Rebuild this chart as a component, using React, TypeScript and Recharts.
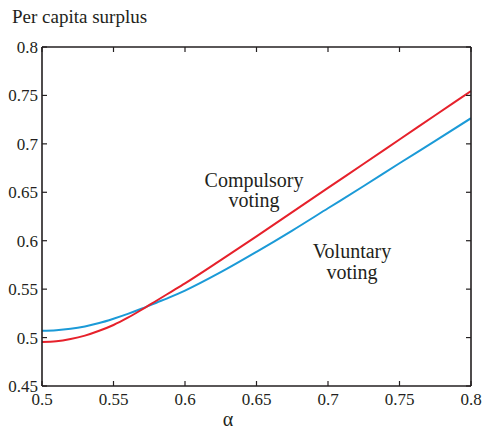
import React from 'react';
import { LineChart, Line, XAxis, YAxis } from 'recharts';

// alpha grid and per-capita surplus
const alphaValues = [0.5, 0.51, 0.52, 0.53, 0.54, 0.55, 0.56, 0.57, 0.58, 0.59, 0.6, 0.625, 0.65, 0.675, 0.7, 0.725, 0.75, 0.775, 0.8];
const compulsoryVoting = [0.4955, 0.4962, 0.4985, 0.502, 0.507, 0.513, 0.5205, 0.529, 0.538, 0.547, 0.556, 0.58, 0.6045, 0.6295, 0.6545, 0.6795, 0.7045, 0.7295, 0.7545];
const voluntaryVoting = [0.507, 0.5075, 0.509, 0.5115, 0.515, 0.5195, 0.5245, 0.53, 0.536, 0.542, 0.5485, 0.5675, 0.5885, 0.6105, 0.6335, 0.6565, 0.68, 0.703, 0.7265];

const xTicks = [0.5, 0.55, 0.6, 0.65, 0.7, 0.75, 0.8];
const yTicks = [0.45, 0.5, 0.55, 0.6, 0.65, 0.7, 0.75, 0.8];

const data = alphaValues.map((a, i) => ({
  alpha: a,
  compulsory: compulsoryVoting[i],
  voluntary: voluntaryVoting[i],
}));

const FONT = '"Liberation Serif", "Times New Roman", serif';
const AXIS = '#231f20';
const tickStyle = { fill: '#231f20', fontSize: 17, fontFamily: FONT };
const noLabel = () => <g />;

export default function App() {
  return (
    <div style={{ position: 'relative', width: 485, height: 434, background: '#fff' }}>
      <style>{`body{margin:0}`}</style>
      <LineChart
        width={485}
        height={434}
        data={data}
        margin={{ top: 46, right: 13, bottom: 0, left: 0 }}
      >
        <XAxis
          dataKey="alpha"
          type="number"
          domain={[0.5, 0.8]}
          ticks={xTicks}
          allowDataOverflow
          height={48}
          tickSize={-5}
          tickMargin={12}
          tick={tickStyle}
          axisLine={{ stroke: AXIS, strokeWidth: 1.6 }}
          tickLine={{ stroke: AXIS, strokeWidth: 1.2 }}
        />
        <XAxis
          xAxisId="top"
          dataKey="alpha"
          orientation="top"
          type="number"
          domain={[0.5, 0.8]}
          ticks={xTicks}
          allowDataOverflow
          height={1}
          tickSize={-5}
          tick={noLabel}
          axisLine={{ stroke: AXIS, strokeWidth: 1.6 }}
          tickLine={{ stroke: AXIS, strokeWidth: 1.2 }}
        />
        <YAxis
          type="number"
          domain={[0.45, 0.8]}
          ticks={yTicks}
          allowDataOverflow
          width={42}
          tickSize={-5}
          tickMargin={9}
          tick={tickStyle}
          axisLine={{ stroke: AXIS, strokeWidth: 1.6 }}
          tickLine={{ stroke: AXIS, strokeWidth: 1.2 }}
        />
        <YAxis
          yAxisId="right"
          orientation="right"
          type="number"
          domain={[0.45, 0.8]}
          ticks={yTicks}
          allowDataOverflow
          width={1}
          tickSize={-5}
          tick={noLabel}
          axisLine={{ stroke: AXIS, strokeWidth: 1.6 }}
          tickLine={{ stroke: AXIS, strokeWidth: 1.2 }}
        />
        <Line
          xAxisId="top"
          yAxisId="right"
          dataKey="voluntary"
          stroke="none"
          dot={false}
          legendType="none"
          isAnimationActive={false}
        />
        <Line
          type="monotone"
          dataKey="voluntary"
          stroke="#1b9ad7"
          strokeWidth={2}
          dot={false}
          isAnimationActive={false}
        />
        <Line
          type="monotone"
          dataKey="compulsory"
          stroke="#e6212b"
          strokeWidth={2}
          dot={false}
          isAnimationActive={false}
        />
      </LineChart>
      <svg
        width={485}
        height={434}
        style={{ position: 'absolute', left: 0, top: 0, pointerEvents: 'none' }}
        fontFamily={FONT}
        fill="#231f20"
      >
        <text x={12} y={23} fontSize={19}>Per capita surplus</text>
        <text x={254} y={187} fontSize={20} textAnchor="middle">Compulsory</text>
        <text x={254} y={207} fontSize={20} textAnchor="middle">voting</text>
        <text x={352} y={258} fontSize={20} textAnchor="middle">Voluntary</text>
        <text x={352} y={279} fontSize={20} textAnchor="middle">voting</text>
        <text x={228} y={426} fontSize={20} textAnchor="middle">α</text>
      </svg>
    </div>
  );
}
